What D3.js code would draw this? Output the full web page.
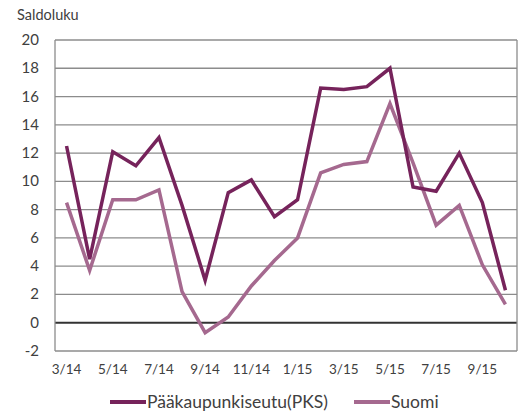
<!DOCTYPE html>
<html>
<head>
<meta charset="utf-8">
<script src="https://cdn.jsdelivr.net/npm/d3@7"></script>
<style>
  body { margin: 0; background: #fff; }
  text { font-family: Lato, "Noto Sans", sans-serif; fill: #404040; }
</style>
</head>
<body>
<div id="main"></div>
<script>
var months = ["3/14","4/14","5/14","6/14","7/14","8/14","9/14","10/14","11/14","12/14",
              "1/15","2/15","3/15","4/15","5/15","6/15","7/15","8/15","9/15","10/15"];
var pks   = [12.5, 4.5, 12.1, 11.1, 13.1, 8.3, 3.0, 9.2, 10.1, 7.5,
             8.7, 16.6, 16.5, 16.7, 18.0, 9.6, 9.3, 12.0, 8.5, 2.3];
var suomi = [8.5, 3.7, 8.7, 8.7, 9.4, 2.2, -0.7, 0.4, 2.6, 4.4,
             6.0, 10.6, 11.2, 11.4, 15.5, 11.3, 6.9, 8.3, 4.1, 1.3];
var yTicks = [-2, 0, 2, 4, 6, 8, 10, 12, 14, 16, 18, 20];

var width = 518, height = 415;
var plotLeft = 55, plotRight = 517, plotTop = 40, plotBottom = 351;

var svg = d3.select("#main").append("svg")
  .attr("width", width)
  .attr("height", height);

var x = d3.scaleBand().domain(months).range([plotLeft, plotRight]);
var y = d3.scaleLinear().domain([-2, 20]).range([plotBottom, plotTop]);
var cx = function (m) { return x(m) + x.bandwidth() / 2; };

// grid
svg.append("g").selectAll("line")
  .data(yTicks)
  .enter().append("line")
  .attr("x1", plotLeft).attr("x2", plotRight)
  .attr("y1", function (d) { return y(d); })
  .attr("y2", function (d) { return y(d); })
  .attr("stroke", function (d) { return d === 0 ? "#333" : "#8c8c8c"; })
  .attr("stroke-width", function (d) { return d === 0 ? 1.8 : 1.3; });

svg.append("line").attr("x1", plotLeft).attr("x2", plotLeft).attr("y1", plotTop).attr("y2", plotBottom)
  .attr("stroke", "#8c8c8c").attr("stroke-width", 1.3);
svg.append("line").attr("x1", plotRight).attr("x2", plotRight).attr("y1", plotTop).attr("y2", plotBottom)
  .attr("stroke", "#8c8c8c").attr("stroke-width", 1.3);

// y labels
svg.append("g").selectAll("text")
  .data(yTicks)
  .enter().append("text")
  .attr("x", 39)
  .attr("y", function (d) { return y(d) + 5; })
  .attr("text-anchor", "end")
  .style("font-size", "15px")
  .text(function (d) { return d; });

// x labels (every other month)
svg.append("g").selectAll("text")
  .data(months.filter(function (d, i) { return i % 2 === 0; }))
  .enter().append("text")
  .attr("x", function (d) { return cx(d); })
  .attr("y", 374)
  .attr("text-anchor", "middle")
  .style("font-size", "13.5px")
  .text(function (d) { return d; });

svg.append("text")
  .attr("x", 17).attr("y", 20)
  .style("font-size", "14.5px")
  .text("Saldoluku");

var line = d3.line()
  .x(function (d, i) { return cx(months[i]); })
  .y(function (d) { return y(d); });

svg.append("path").datum(suomi)
  .attr("d", line)
  .attr("fill", "none")
  .attr("stroke", "#a5698f")
  .attr("stroke-width", 3.5);

svg.append("path").datum(pks)
  .attr("d", line)
  .attr("fill", "none")
  .attr("stroke", "#76235b")
  .attr("stroke-width", 3.5);

// legend
var legend = [
  { name: "Pääkaupunkiseutu(PKS)", color: "#76235b", x: 110 },
  { name: "Suomi", color: "#a5698f", x: 354 }
];
var lg = svg.append("g").selectAll("g")
  .data(legend)
  .enter().append("g");
lg.append("line")
  .attr("x1", function (d) { return d.x; })
  .attr("x2", function (d) { return d.x + 36; })
  .attr("y1", 402).attr("y2", 402)
  .attr("stroke", function (d) { return d.color; })
  .attr("stroke-width", 4);
lg.append("text")
  .attr("x", function (d) { return d.x + 37; })
  .attr("y", 408)
  .style("font-size", "17.5px")
  .text(function (d) { return d.name; });
</script>
</body>
</html>
